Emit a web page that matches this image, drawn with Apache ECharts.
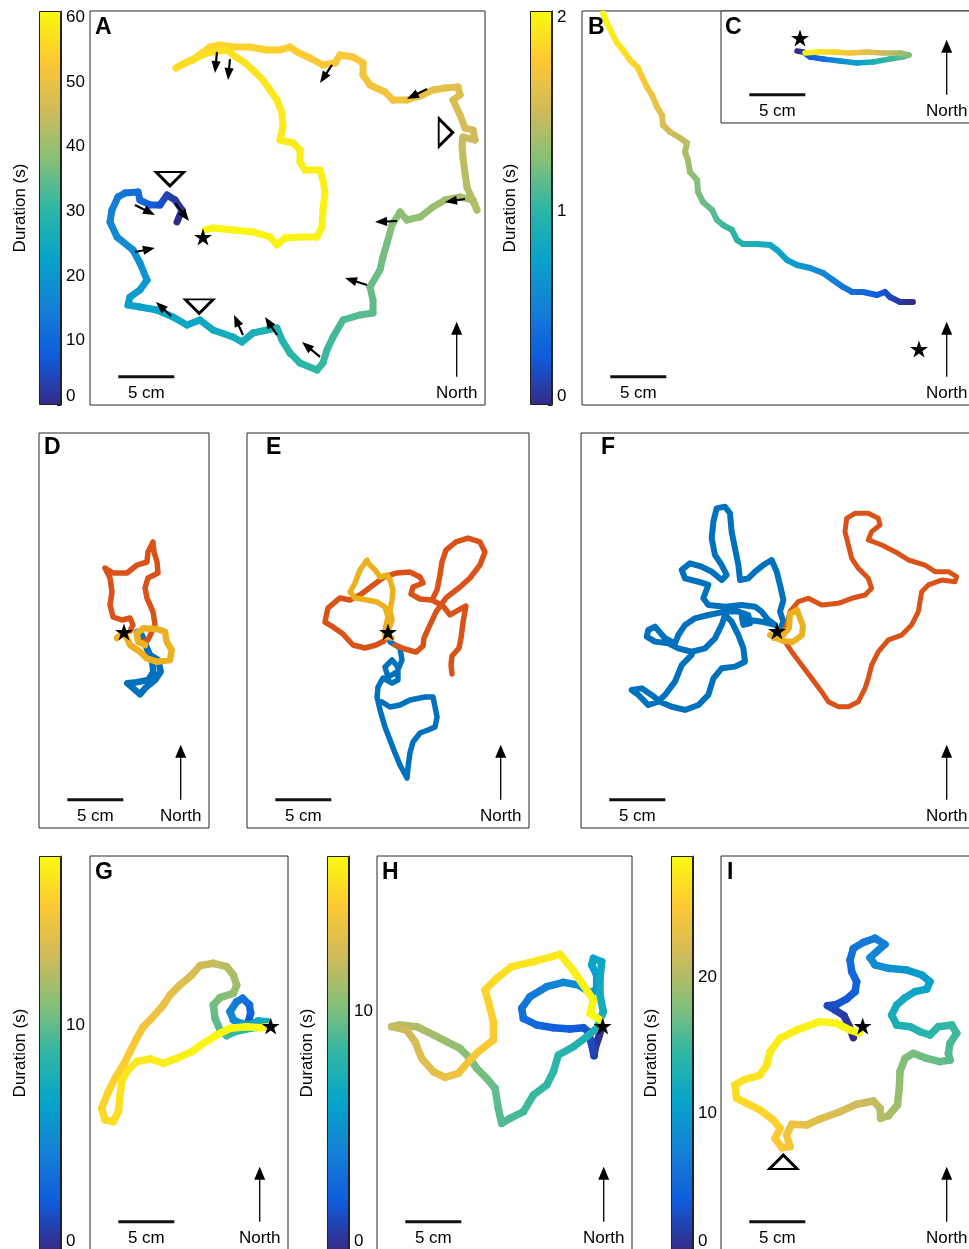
<!DOCTYPE html>
<html>
<head>
<meta charset="utf-8">
<script src="https://cdn.jsdelivr.net/npm/echarts@6/dist/echarts.min.js"></script>
<style>
  html, body { margin: 0; padding: 0; background: #fff; }
  #chart { width: 969px; height: 1249px; }
</style>
</head>
<body>
<div id="chart"></div>
<script>
// ---------- Trajectory data (cm, origin at the start star; third value = time in s) ----------
const trackA = [[-2.32,1.34,0],[-1.88,2.41,1],[-2.5,3.30,2],[-3.21,3.75,4],[-3.84,2.86,6],[-4.73,2.86,8],[-5.63,3.30,10],[-5.80,4.02,11],[-6.96,3.93,12],[-7.59,3.57,13.5],[-8.13,2.41,15],[-8.30,1.34,16],[-7.68,0,17],[-6.25,-1.16,18],[-5.63,-2.32,19],[-5.0,-3.84,20],[-5.63,-4.73,21],[-6.52,-5.36,21.5],[-6.70,-6.07,22],[-5.63,-6.25,22.5],[-4.11,-6.52,23],[-2.68,-7.14,23.5],[-1.43,-7.86,24],[-0.27,-7.41,24.5],[0.89,-8.30,25],[2.68,-8.93,26],[3.48,-9.38,26.5],[4.46,-8.57,27],[5.71,-8.30,27.5],[6.61,-8.13,28],[7.05,-9.20,28.5],[7.77,-10.36,29],[8.66,-11.25,29.5],[10.18,-11.88,30.5],[10.71,-11.25,31],[11.07,-10.09,31.5],[11.61,-8.93,32],[12.5,-7.41,33],[14.02,-6.96,34],[15.18,-6.79,34.5],[15.18,-5.63,35],[14.91,-4.46,35.5],[15.80,-2.95,36],[16.07,-1.79,36.5],[16.43,-0.54,37],[16.88,1.07,38],[17.59,2.23,38.5],[18.21,1.52,39],[19.38,1.79,39.5],[20.54,2.68,40],[21.61,3.30,41],[22.95,3.57,41.5],[24.11,3.30,42],[24.46,2.41,42.5],[23.57,4.46,43],[23.39,5.71,43.5],[23.21,7.14,44],[23.13,8.21,44.5],[23.21,8.93,45],[24.29,8.66,45.5],[24.11,9.55,46],[23.39,9.73,46.5],[22.95,10.89,47],[22.32,12.23,47.5],[22.95,12.68,48],[22.77,13.39,48.5],[21.61,13.30,49],[20.54,13.13,49.5],[19.38,12.59,50],[18.21,12.23,50.5],[16.96,12.23,51],[16.25,12.95,51.3],[14.91,13.57,51.6],[14.29,14.46,51.9],[14.29,15.54,52.2],[13.39,16.07,52.5],[12.23,16.25,52.8],[11.79,15.54,53],[10.71,15.36,53.2],[9.55,15.98,53.4],[8.39,16.52,53.6],[7.77,16.96,53.8],[6.88,16.70,54.1],[5.71,16.70,54.4],[4.20,16.96,54.7],[2.68,16.96,55],[1.52,17.14,55.3],[0.63,16.96,55.5],[-0.09,16.43,55.7],[-0.89,15.80,55.9],[-1.79,15.45,56.1],[-2.41,15.09,56.3],[-1.43,15.63,56.5],[0.36,16.43,56.7],[2.14,16.70,56.9],[2.95,16.07,57.1],[3.75,15.54,57.3],[4.46,14.91,57.5],[5.36,14.02,57.7],[5.98,13.13,57.9],[6.61,12.23,58.1],[7.05,11.07,58.3],[7.14,9.82,58.5],[6.88,8.66,58.7],[8.04,8.39,58.8],[8.66,7.77,58.9],[8.66,6.70,59],[9.11,5.98,59.1],[10.45,5.98,59.2],[10.71,5.09,59.3],[10.89,3.93,59.4],[10.71,2.41,59.5],[10.63,0.89,59.6],[10.18,0,59.7],[8.66,0,59.75],[7.32,-0.09,59.8],[6.61,-0.71,59.85],[5.98,0,59.9],[4.46,0.45,59.93],[2.68,0.63,59.96],[0.89,0.80,59.98],[0.18,0.63,60]];

// heading arrows in A: [tailX, tailY, headX, headY]
const headingsA = [[1.25,16.52,1.07,14.64],[2.41,15.89,2.23,14.02],[11.52,15.36,10.45,13.75],[20.0,13.21,18.21,12.32],[23.39,3.39,21.61,3.13],[17.32,1.43,15.36,1.34],[14.64,-4.29,12.68,-3.66],[10.45,-10.71,8.84,-9.38],[6.61,-8.75,5.54,-7.14],[3.57,-8.75,2.77,-6.96],[-2.86,-7.05,-4.20,-5.80],[-6.07,-1.34,-4.29,-0.98],[-6.07,2.86,-4.29,1.96],[-2.5,3.04,-1.25,1.43]];
const turnsA = [[-2.95,5.18,'down'],[-0.34,-6.19,'down'],[21.67,9.33,'right']];

const trackB = [[-0.54,4.20,0],[-1.70,4.20,0.08],[-2.59,4.64,0.15],[-3.04,5.09,0.2],[-3.75,4.82,0.26],[-5.0,5.09,0.33],[-5.98,5.09,0.38],[-6.79,5.54,0.43],[-7.68,6.16,0.5],[-8.57,6.79,0.55],[-9.73,7.23,0.62],[-10.89,7.50,0.68],[-11.79,7.95,0.73],[-12.68,8.84,0.79],[-13.30,9.29,0.83],[-14.46,9.38,0.89],[-15.71,9.38,0.95],[-16.25,9.73,0.98],[-16.70,10.63,1.02],[-17.5,11.07,1.06],[-18.04,11.52,1.1],[-18.48,12.41,1.15],[-19.29,13.13,1.2],[-19.73,14.02,1.24],[-19.82,15.09,1.28],[-20.45,15.80,1.32],[-20.63,16.88,1.36],[-20.89,17.59,1.4],[-20.71,18.39,1.44],[-21.34,18.84,1.48],[-22.23,19.38,1.53],[-22.86,20.0,1.57],[-22.95,20.89,1.61],[-23.39,21.61,1.65],[-23.84,22.68,1.69],[-24.29,23.39,1.73],[-24.73,24.29,1.77],[-25.09,25.09,1.81],[-25.80,25.80,1.85],[-26.43,26.70,1.89],[-26.96,27.32,1.93],[-27.41,28.21,1.96],[-27.86,29.11,1.99],[-28.21,30.0,2.02]];

const trackC = [[-0.27,-1.16,0],[0.27,-1.25,0.1],[0.89,-1.70,0.25],[2.05,-1.88,0.4],[3.57,-2.05,0.6],[5.09,-2.23,0.75],[6.52,-2.14,0.9],[8.04,-1.88,1.05],[9.20,-1.70,1.15],[9.73,-1.52,1.25],[8.93,-1.34,1.35],[7.41,-1.34,1.5],[5.98,-1.25,1.62],[4.46,-1.34,1.73],[2.95,-1.25,1.83],[1.52,-1.25,1.92],[0.45,-1.34,2.0]];

const trackDBlue = [[1.16,0],[1.58,-0.27],[1.88,-1.01],[2.32,-2.05],[3.06,-2.5],[3.28,-3.54],[2.77,-4.29],[1.88,-5.03],[1.43,-5.56],[0.83,-5.03],[0.29,-4.58],[1.13,-4.49],[2.17,-4.29],[2.62,-3.54],[2.47,-2.35],[2.03,-1.46]];
const trackDRed = [[0.54,0.09],[0.80,0.63],[0.54,1.25],[-0.18,1.07],[-0.98,1.34],[-1.25,2.41],[-1.07,3.57],[-1.25,4.82],[-1.70,5.71],[-0.98,5.27],[0.27,5.27],[1.16,5.98],[2.05,6.25],[2.14,7.14],[2.59,8.04],[2.68,7.14],[2.95,6.25],[3.04,5.27],[2.14,4.82],[1.88,3.93],[2.05,3.04],[2.59,1.79],[2.77,0.63],[2.14,-0.71],[1.70,-0.89]];
const trackDYellow = [[-0.63,-0.54],[0,0],[0.54,-1.16],[1.43,-1.76],[2.03,-2.35],[2.92,-2.65],[4.11,-2.5],[4.26,-1.61],[3.81,-0.87],[3.66,0.03],[2.92,0.27],[1.72,0.33],[1.13,-0.12],[1.28,-0.87],[1.88,-1.16]];

const trackEBlue = [[0,0],[0.18,-0.89],[1.07,-1.43],[1.25,-2.5],[0.80,-3.57],[0,-4.02],[-0.27,-3.13],[0.36,-2.5],[0.89,-3.13],[0.89,-4.29],[0.36,-4.55],[-0.45,-4.11],[-0.89,-4.91],[-0.98,-5.80],[-0.71,-6.96],[-0.27,-8.48],[0.18,-9.64],[0.63,-10.80],[1.07,-11.88],[1.70,-13.04],[1.79,-12.05],[1.96,-10.80],[2.23,-9.82],[2.86,-9.02],[3.57,-8.75],[4.20,-8.48],[4.38,-7.59],[4.20,-6.70],[4.02,-5.80],[3.30,-5.80],[2.86,-5.89],[1.96,-6.07],[1.07,-6.52],[0.18,-6.70],[-0.54,-6.25]];
const trackERedEast = [[0.63,-1.16],[1.52,-1.52],[2.5,-1.79],[3.13,-1.25],[3.21,-0.54],[3.75,0.63],[4.29,1.79],[5.18,3.04],[6.43,4.02],[7.32,4.82],[8.21,5.98],[8.66,7.14],[8.21,8.04],[7.14,8.39],[6.07,8.04],[5.18,7.32],[4.82,6.25],[4.64,5.09],[4.38,3.75],[3.93,2.86],[4.91,2.32],[5.54,1.52],[6.16,1.88],[6.96,2.32],[6.70,0.89],[6.52,-0.54],[6.34,-1.43],[5.71,-2.14],[5.63,-2.95],[5.71,-3.75]];
const trackERedWest = [[3.93,2.86],[2.86,2.95],[2.05,3.39],[2.23,4.02],[3.13,4.38],[2.86,4.91],[1.96,5.36],[0.80,5.27],[-0.36,4.91],[-1.43,4.11],[-2.5,3.30],[-3.39,2.86],[-4.29,3.04],[-5.36,2.14],[-5.63,0.89],[-4.91,0.45],[-4.02,-0.18],[-3.13,-1.16],[-2.05,-1.43],[-1.07,-1.16],[-0.36,-0.80]];
const trackEYellow = [[0,0.09],[0.36,1.07],[0.18,1.96],[0.36,2.86],[0.45,3.75],[0.18,4.64],[-0.09,5.09],[-0.71,4.91],[-1.16,5.54],[-1.79,6.16],[-1.88,6.43],[-2.5,5.54],[-2.95,4.38],[-3.39,3.57],[-2.95,3.04],[-1.88,2.86],[-0.98,2.68],[-0.27,2.23],[0,1.34],[-0.27,0.18],[-0.27,-0.45],[0.36,-0.54]];

const trackFBlue = [[0.12,-0.21],[0.57,0.83],[0.27,1.73],[0.57,2.77],[0.27,4.11],[-0.03,5.30],[-0.48,6.34],[-1.22,5.89],[-1.96,5.30],[-2.56,4.70],[-3.30,4.55],[-3.45,5.89],[-3.75,7.38],[-4.05,8.87],[-4.20,10.51],[-4.64,11.10],[-5.39,10.95],[-5.68,9.76],[-5.83,8.27],[-5.54,6.79],[-4.94,5.89],[-4.49,5.0],[-4.94,4.55],[-5.83,5.30],[-6.73,5.74],[-7.77,6.04],[-8.51,5.45],[-8.21,4.70],[-7.02,4.40],[-6.13,4.11],[-6.58,2.92],[-6.13,2.32],[-4.64,2.17],[-3.15,2.32],[-1.96,2.17],[-1.37,1.73],[-0.77,0.98],[-0.18,0.54],[-1.37,0.83],[-2.41,0.98],[-3.15,1.28],[-3.0,0.54],[-2.41,0.68],[-2.56,1.43],[-3.45,1.73],[-4.64,1.73],[-6.13,1.43],[-7.32,1.13],[-8.21,0.54],[-8.81,-0.36],[-9.11,-1.10],[-10.0,-0.65],[-10.89,0.39],[-11.49,0.09],[-11.64,-0.51],[-10.89,-0.95],[-9.70,-1.10],[-8.81,-1.55],[-7.62,-1.85],[-6.43,-1.55],[-5.54,-0.65],[-4.94,0.54],[-4.64,1.43],[-4.05,0.83],[-3.45,-0.36],[-3.0,-1.55],[-2.86,-2.74],[-3.75,-3.18],[-4.94,-3.33],[-5.68,-4.23],[-6.13,-5.71],[-7.02,-6.61],[-8.21,-7.05],[-9.40,-6.76],[-10.45,-6.31],[-11.19,-5.71],[-12.08,-5.12],[-12.98,-5.27],[-12.38,-5.71],[-11.49,-6.61],[-10.60,-6.31],[-10.0,-5.71],[-9.11,-4.52],[-8.51,-3.04],[-7.62,-2.14]];
const trackFRed = [[0.71,-0.95],[1.31,-1.85],[2.20,-3.04],[3.10,-4.23],[3.99,-5.42],[4.58,-6.31],[5.48,-6.76],[6.37,-6.76],[7.26,-6.31],[7.86,-5.12],[8.15,-4.23],[8.45,-3.04],[9.05,-1.85],[9.94,-0.80],[11.13,-0.36],[12.02,0.54],[12.62,1.73],[12.92,3.51],[13.51,4.11],[14.70,4.55],[15.89,4.40],[16.04,4.85],[15.30,5.30],[14.11,5.30],[13.21,5.89],[11.73,6.34],[10.54,7.08],[9.35,7.68],[8.15,8.13],[8.45,8.87],[9.20,9.46],[9.05,10.06],[8.15,10.51],[6.96,10.51],[6.22,10.06],[6.07,8.87],[6.37,7.68],[6.67,6.49],[7.26,5.60],[8.15,4.70],[8.45,3.81],[7.86,3.21],[6.67,2.92],[5.48,2.47],[3.99,2.32],[2.80,2.92],[1.90,2.62],[1.16,1.73],[0.86,0.54],[0.42,-0.36]];
const trackFYellow = [[-0.63,-0.36],[0.54,-0.89],[1.43,-0.98],[2.23,-0.36],[2.32,0.45],[2.05,1.16],[1.79,1.88],[1.16,1.52],[1.07,0.27],[0.54,-0.36],[-0.27,-0.63]];

const trackG = [[-1.99,0.39,2.0],[-1.79,1.13,2.5],[-1.90,1.88,3.0],[-2.50,2.47,3.5],[-3.04,2.17,4.0],[-3.63,1.28,4.5],[-3.33,0.54,5.0],[-2.68,0.24,5.5],[-1.85,0.09,6.3],[-1.10,0.45,7.0],[-0.36,0.39,7.5],[-0.65,-0.06,8.0],[-1.85,-0.21,8.3],[-3.18,-0.51,8.8],[-3.93,-0.86,9.2],[-4.52,-0.36,9.6],[-4.97,0.68,10.0],[-5.12,1.88,10.4],[-4.52,2.53,10.8],[-3.33,2.92,11.2],[-3.04,3.66,11.6],[-3.33,4.55,12.0],[-3.93,5.30,12.4],[-5.12,5.60,12.8],[-6.31,5.39,13.2],[-7.05,4.55,13.5],[-8.10,3.66,13.8],[-8.99,2.77,14.1],[-9.58,1.88,14.3],[-10.63,0.68,14.6],[-11.37,-0.06,14.8],[-11.96,-1.10,15.0],[-12.56,-2.29,15.2],[-13.15,-3.48,15.4],[-13.90,-4.67,15.6],[-14.49,-5.86,15.8],[-15.09,-7.35,15.95],[-14.79,-8.39,16.1],[-14.05,-8.54,16.2],[-13.60,-7.65,16.3],[-13.45,-6.16,16.4],[-13.30,-4.97,16.5],[-12.86,-4.08,16.6],[-11.96,-3.18,16.7],[-10.77,-2.95,16.8],[-9.58,-3.33,16.9],[-8.39,-2.89,17.0],[-7.05,-2.29,17.1],[-6.01,-1.55,17.2],[-4.82,-0.80,17.3],[-3.63,-0.21,17.35],[-2.14,-0.06,17.4],[-0.95,-0.15,17.45],[-0.21,-0.06,17.5]];

const trackH = [[-0.09,-0.15,0],[-0.39,-1.10,0.3],[-0.68,-1.99,0.6],[-0.77,-2.65,0.9],[-0.98,-1.70,1.2],[-1.28,-0.51,1.5],[-1.73,-0.15,1.8],[-2.92,-0.27,2.1],[-4.40,-0.15,2.4],[-5.89,0.09,2.7],[-7.08,0.68,3.0],[-7.23,1.58,3.3],[-6.49,2.62,3.7],[-5.0,3.51,4.1],[-3.51,3.90,4.5],[-2.17,3.66,4.9],[-0.98,2.92,5.3],[-0.54,3.36,5.6],[-0.54,4.55,5.9],[-0.98,5.45,6.1],[-0.83,6.04,6.3],[-0.09,5.74,6.5],[-0.24,4.26,6.7],[-0.24,2.77,6.9],[0.06,1.28,7.1],[-0.54,-0.21,7.3],[-1.43,-0.95,7.5],[-2.62,-1.85,7.7],[-3.96,-2.59,7.9],[-4.40,-4.08,8.1],[-5.0,-5.27,8.3],[-6.19,-6.16,8.5],[-7.08,-7.65,8.7],[-8.27,-8.24,8.9],[-9.02,-8.69,9.1],[-9.32,-7.35,9.3],[-9.61,-5.57,9.5],[-10.36,-4.67,9.8],[-11.25,-3.78,10.0],[-11.85,-2.89,10.2],[-12.74,-1.99,10.5],[-13.93,-1.40,10.8],[-15.12,-0.80,11.1],[-16.61,-0.06,11.4],[-18.10,0.09,11.7],[-18.84,-0.06,12.0],[-17.5,-0.36,12.3],[-16.76,-1.40,12.6],[-16.16,-2.89,12.9],[-15.12,-4.08,13.2],[-14.08,-4.58,13.5],[-12.89,-4.23,13.8],[-11.99,-3.18,14.0],[-11.10,-2.29,14.2],[-9.76,-1.25,14.4],[-9.76,0.39,14.6],[-10.21,2.17,14.8],[-10.51,3.21,15.0],[-9.46,4.26,15.2],[-8.13,5.30,15.4],[-6.19,5.74,15.6],[-3.81,6.40,15.8],[-2.77,5.15,15.95],[-1.73,3.66,16.1],[-0.83,2.32,16.2],[-1.13,1.13,16.3],[-0.24,0.54,16.4]];

const trackI = [[-0.83,-1.04,0],[-1.19,-0.06,0.6],[-1.67,0.92,1.2],[-2.47,1.43,1.8],[-3.15,1.82,2.3],[-2.32,1.93,2.8],[-1.43,2.41,3.3],[-0.68,3.07,3.9],[-0.54,3.96,4.4],[-0.98,4.85,4.9],[-1.13,5.89,5.4],[-0.83,6.93,5.9],[0.06,7.47,6.3],[1.10,7.83,6.7],[1.99,7.29,7.1],[1.31,6.70,7.5],[0.65,6.10,7.9],[1.10,5.45,8.3],[2.29,5.15,8.8],[3.93,5.0,9.4],[5.27,4.55,10.0],[6.01,3.96,10.5],[5.71,3.30,10.9],[4.67,3.07,11.3],[3.78,2.53,11.7],[3.04,1.88,12.0],[2.59,0.98,12.4],[3.04,0.09,12.8],[4.23,-0.06,13.2],[5.12,-0.51,13.6],[6.01,-0.80,14.0],[6.76,-0.06,14.3],[7.95,0.09,14.7],[8.39,-0.65,15.1],[7.80,-1.55,15.5],[7.65,-2.44,15.9],[7.80,-3.04,16.2],[6.90,-3.18,16.6],[5.71,-2.89,17.0],[4.52,-2.44,17.4],[3.78,-2.89,17.8],[3.33,-4.08,18.2],[3.27,-5.57,18.7],[3.10,-7.05,19.2],[2.29,-8.01,19.8],[1.61,-8.24,20.2],[1.55,-7.35,20.6],[0.95,-6.70,21.0],[-0.54,-6.99,21.6],[-2.02,-7.65,22.2],[-3.81,-8.30,22.8],[-5.0,-8.84,23.3],[-6.34,-8.78,23.8],[-6.79,-9.73,24.3],[-6.49,-10.77,24.7],[-7.23,-10.86,25.0],[-7.83,-10.03,25.3],[-7.38,-9.14,25.6],[-7.98,-8.39,25.9],[-9.17,-7.50,26.2],[-10.36,-6.90,26.5],[-11.25,-6.46,26.7],[-11.40,-5.27,26.9],[-10.65,-4.82,27.1],[-9.17,-4.38,27.3],[-8.57,-3.48,27.5],[-8.27,-2.29,27.7],[-7.38,-1.10,27.9],[-5.89,-0.36,28.1],[-3.81,0.39,28.3],[-2.32,0.24,28.5],[-1.13,-0.36,28.6],[-0.30,-0.65,28.7]];
const turnsI = [[-7.09,-12.14,'up']];

// colour bar ranges (s) and tick values
const cbMaxA = 61,   ticksA = [0, 10, 20, 30, 40, 50, 60];
const cbMaxB = 2.03, ticksB = [0, 1, 2];
const cbMaxG = 17.5, ticksG = [0, 10];
const cbMaxH = 16.5, ticksH = [0, 10];
const cbMaxI = 28.9, ticksI = [0, 10, 20];

const SCALE_BAR_CM = 5;

// ---------- Styling / layout ----------
const FONT = '"Liberation Sans", Arial, Helvetica, sans-serif';
const PX_PER_CM = 11.2;
const PARULA = ['#352a87', '#0f5cdd', '#1481d6', '#06a4ca', '#2eb7a4', '#87bf77', '#d1bb59', '#fec832', '#f9fb0e'];
const C_BLUE = '#0072bd', C_RED = '#d95319', C_YELLOW = '#edb120';

const PANELS = {
  A: { box: [90, 11, 395, 394],  star: [203, 237],    letter: [95, 28] },
  B: { box: [582, 11, 393, 394], star: [919, 349],    letter: [588, 28] },
  C: { box: [721, 11, 254, 112], star: [800, 38],     letter: [725, 28] },
  D: { box: [39, 433, 170, 395], star: [124, 632],    letter: [44, 448] },
  E: { box: [247, 433, 282, 395], star: [388, 632],   letter: [266, 448] },
  F: { box: [581, 433, 394, 395], star: [777, 631],   letter: [601, 448] },
  G: { box: [90, 856, 198, 394], star: [270.7, 1026], letter: [95, 873] },
  H: { box: [377, 856, 255, 394], star: [602.7, 1026], letter: [382, 873] },
  I: { box: [721, 856, 254, 394], star: [862.7, 1026], letter: [727, 873] }
};
const COLORBARS = {
  A: { box: [39, 11, 22, 394],  labelX: 20,  max: cbMaxA, ticks: ticksA },
  B: { box: [530, 11, 22, 394], labelX: 510, max: cbMaxB, ticks: ticksB },
  G: { box: [39, 856, 22, 394], labelX: 20,  max: cbMaxG, ticks: ticksG },
  H: { box: [327, 856, 22, 394], labelX: 307, max: cbMaxH, ticks: ticksH },
  I: { box: [671, 856, 22, 394], labelX: 651, max: cbMaxI, ticks: ticksI }
};

const STAR_PATH = 'path://M50,0 L61.2,34.5 L97.6,34.5 L68.2,55.9 L79.4,90.5 L50,69.1 L20.6,90.5 L31.8,55.9 L2.4,34.5 L38.8,34.5 Z';
const TURN_ROTATION = { up: 0, down: 180, right: -90, left: 90 };

function hexRgb(h) {
  return [parseInt(h.slice(1, 3), 16), parseInt(h.slice(3, 5), 16), parseInt(h.slice(5, 7), 16)];
}
const PARULA_RGB = PARULA.map(hexRgb);
function parula(f) {
  f = Math.max(0, Math.min(1, f));
  const n = PARULA_RGB.length - 1;
  const p = f * n;
  const i = Math.min(n - 1, Math.floor(p));
  const r = p - i;
  const a = PARULA_RGB[i], b = PARULA_RGB[i + 1];
  return 'rgb(' + [0, 1, 2].map(k => Math.round(a[k] + (b[k] - a[k]) * r)).join(',') + ')';
}

const grid = [], xAxis = [], yAxis = [], series = [], graphic = [];
const gridOf = {};

// ---------- map panels ----------
Object.keys(PANELS).forEach(id => {
  const P = PANELS[id];
  const [l, t, w, h] = P.box;
  const [sx, sy] = P.star;
  const gi = grid.length;
  gridOf[id] = gi;
  grid.push({ left: l, top: t, width: w, height: h, show: true, backgroundColor: '#fff',
              borderColor: '#262626', borderWidth: 1, outerBoundsMode: 'none', containLabel: false,
              z: id === 'C' ? 3 : 0 });
  const xMin = (l - sx) / PX_PER_CM, xMax = (l + w - sx) / PX_PER_CM;
  const yMin = (sy - t - h) / PX_PER_CM, yMax = (sy - t) / PX_PER_CM;
  xAxis.push({ type: 'value', gridIndex: gi, min: xMin, max: xMax, show: false });
  yAxis.push({ type: 'value', gridIndex: gi, min: yMin, max: yMax, show: false });

  // 5 cm scale bar
  const bx = xMin + 28.3 / PX_PER_CM, by = yMin + 28.3 / PX_PER_CM;
  series.push({ type: 'line', xAxisIndex: gi, yAxisIndex: gi, silent: true, symbol: 'none', z: 4,
    data: [[bx, by], [bx + SCALE_BAR_CM, by]],
    lineStyle: { color: '#111', width: 3, cap: 'butt' } });

  const bottom = t + h, right = l + w;
  graphic.push({ type: 'text', x: l + 28.3 + SCALE_BAR_CM * PX_PER_CM / 2, y: bottom - 12, z: 100,
    style: { text: SCALE_BAR_CM + ' cm', fontSize: 17, fontFamily: FONT, fill: '#000', align: 'center', verticalAlign: 'middle' } });
  // north arrow
  const ax = right - 28.3, ab = bottom - 28.3;
  graphic.push({ type: 'line', z: 100, shape: { x1: ax, y1: ab, x2: ax, y2: ab - 44 }, style: { stroke: '#000', lineWidth: 1.3 } });
  graphic.push({ type: 'polygon', z: 100, shape: { points: [[ax, ab - 55], [ax - 5.5, ab - 42], [ax + 5.5, ab - 42]] }, style: { fill: '#000' } });
  graphic.push({ type: 'text', x: ax, y: bottom - 12, z: 100,
    style: { text: 'North', fontSize: 17, fontFamily: FONT, fill: '#000', align: 'center', verticalAlign: 'middle' } });
  // panel letter
  graphic.push({ type: 'text', x: P.letter[0], y: P.letter[1], z: 100,
    style: { text: id, fontSize: 23, fontWeight: 'bold', fontFamily: FONT, fill: '#000', align: 'left', verticalAlign: 'middle' } });
});

// time-coloured track, segment by segment
function timeTrack(id, track, cmax, width) {
  const gi = gridOf[id];
  return {
    type: 'custom', xAxisIndex: gi, yAxisIndex: gi, coordinateSystem: 'cartesian2d',
    data: track, encode: { x: 0, y: 1 }, clip: true, silent: true, z: 3,
    renderItem(params, api) {
      const i = params.dataIndex;
      const a = track[i], b = track[Math.min(i + 1, track.length - 1)];
      const p0 = api.coord([a[0], a[1]]), p1 = api.coord([b[0], b[1]]);
      const c0 = parula(a[2] / cmax), c1 = parula(b[2] / cmax);
      let stroke = c0;
      if (Math.hypot(p1[0] - p0[0], p1[1] - p0[1]) > 0.5) {
        stroke = new echarts.graphic.LinearGradient(p0[0], p0[1], p1[0], p1[1],
          [{ offset: 0, color: c0 }, { offset: 1, color: c1 }], true);
      }
      return { type: 'line', shape: { x1: p0[0], y1: p0[1], x2: p1[0], y2: p1[1] },
               style: { stroke: stroke, lineWidth: width, lineCap: 'round' } };
    }
  };
}
function plainTrack(id, track, color, width) {
  const gi = gridOf[id];
  return { type: 'line', xAxisIndex: gi, yAxisIndex: gi, data: track, symbol: 'none', silent: true, z: 3,
    lineStyle: { color: color, width: width, cap: 'round', join: 'round' } };
}
function starMark(id) {
  const gi = gridOf[id];
  return { type: 'scatter', xAxisIndex: gi, yAxisIndex: gi, data: [[0, 0]], symbol: STAR_PATH, symbolSize: 18,
    symbolKeepAspect: true, silent: true, z: 8, itemStyle: { color: '#000', opacity: 1 } };
}
function turnMarks(id, turns) {
  const gi = gridOf[id];
  return { type: 'scatter', xAxisIndex: gi, yAxisIndex: gi, silent: true, z: 8, symbol: 'triangle', symbolSize: [28, 14],
    data: turns.map(d => ({ value: [d[0], d[1]], symbolRotate: TURN_ROTATION[d[2]] })),
    itemStyle: { color: 'rgba(255,255,255,0)', borderColor: '#000', borderWidth: 2.6, opacity: 1 } };
}
function headingArrows(id, arrows) {
  const gi = gridOf[id];
  return {
    type: 'custom', xAxisIndex: gi, yAxisIndex: gi, coordinateSystem: 'cartesian2d',
    data: arrows, encode: { x: [0, 2], y: [1, 3] }, silent: true, z: 9,
    renderItem(params, api) {
      const a = arrows[params.dataIndex];
      const p1 = api.coord([a[0], a[1]]), p2 = api.coord([a[2], a[3]]);
      const dx = p2[0] - p1[0], dy = p2[1] - p1[1];
      const len = Math.hypot(dx, dy) || 1;
      const ux = dx / len, uy = dy / len;
      const hl = 12, hw = 4.6;
      const bx = p2[0] - ux * hl, by = p2[1] - uy * hl;
      return { type: 'group', children: [
        { type: 'line', shape: { x1: p1[0], y1: p1[1], x2: bx + ux * 2, y2: by + uy * 2 }, style: { stroke: '#000', lineWidth: 2.2 } },
        { type: 'polygon', shape: { points: [[p2[0], p2[1]], [bx - uy * hw, by + ux * hw], [bx + uy * hw, by - ux * hw]] }, style: { fill: '#000' } }
      ] };
    }
  };
}

series.push(timeTrack('A', trackA, cbMaxA, 7));
series.push(headingArrows('A', headingsA));
series.push(turnMarks('A', turnsA));
series.push(timeTrack('B', trackB, cbMaxB, 6));
series.push(timeTrack('C', trackC, cbMaxB, 5.5));
series.push(plainTrack('D', trackDBlue, C_BLUE, 6.5));
series.push(plainTrack('D', trackDRed, C_RED, 5.5));
series.push(plainTrack('D', trackDYellow, C_YELLOW, 6.5));
series.push(plainTrack('E', trackEBlue, C_BLUE, 5.5));
series.push(plainTrack('E', trackERedEast, C_RED, 5.5));
series.push(plainTrack('E', trackERedWest, C_RED, 5.5));
series.push(plainTrack('E', trackEYellow, C_YELLOW, 5.5));
series.push(plainTrack('F', trackFBlue, C_BLUE, 6));
series.push(plainTrack('F', trackFRed, C_RED, 5));
series.push(plainTrack('F', trackFYellow, C_YELLOW, 6));
series.push(timeTrack('G', trackG, cbMaxG, 7.5));
series.push(timeTrack('H', trackH, cbMaxH, 7.5));
series.push(timeTrack('I', trackI, cbMaxI, 7.5));
series.push(turnMarks('I', turnsI));
Object.keys(PANELS).forEach(id => series.push(starMark(id)));

// ---------- colour bars ----------
const cbGradientStops = PARULA.map((c, i) => ({ offset: i / (PARULA.length - 1), color: c }));
Object.keys(COLORBARS).forEach(id => {
  const cb = COLORBARS[id];
  const [l, t, w, h] = cb.box;
  const gi = grid.length;
  grid.push({ left: l, top: t, width: w, height: h, show: false, outerBoundsMode: 'none', containLabel: false });
  xAxis.push({ type: 'category', gridIndex: gi, data: ['duration'], show: false });
  yAxis.push({ type: 'value', gridIndex: gi, min: 0, max: cb.max, position: 'right',
    axisLine: { show: true, lineStyle: { color: '#222', width: 1 } },
    axisTick: { show: true, inside: true, length: 4, customValues: cb.ticks, lineStyle: { color: '#222', width: 1 } },
    axisLabel: { show: true, customValues: cb.ticks, fontSize: 17, fontFamily: FONT, color: '#000', margin: 5,
                 verticalAlignMinLabel: 'bottom' },
    splitLine: { show: false } });
  series.push({ type: 'bar', xAxisIndex: gi, yAxisIndex: gi, data: [cb.max], barWidth: '100%', silent: true, z: 1,
    itemStyle: { color: new echarts.graphic.LinearGradient(0, 1, 0, 0, cbGradientStops), borderColor: '#222', borderWidth: 1 } });
  graphic.push({ type: 'text', x: cb.labelX, y: t + h / 2, rotation: Math.PI / 2, z: 100,
    style: { text: 'Duration (s)', fontSize: 17, fontFamily: FONT, fill: '#000', align: 'center', verticalAlign: 'middle' } });
});

const chart = echarts.init(document.getElementById('chart'), null, { renderer: 'canvas' });
chart.setOption({ animation: false, backgroundColor: '#fff', grid, xAxis, yAxis, series, graphic });
</script>
</body>
</html>
